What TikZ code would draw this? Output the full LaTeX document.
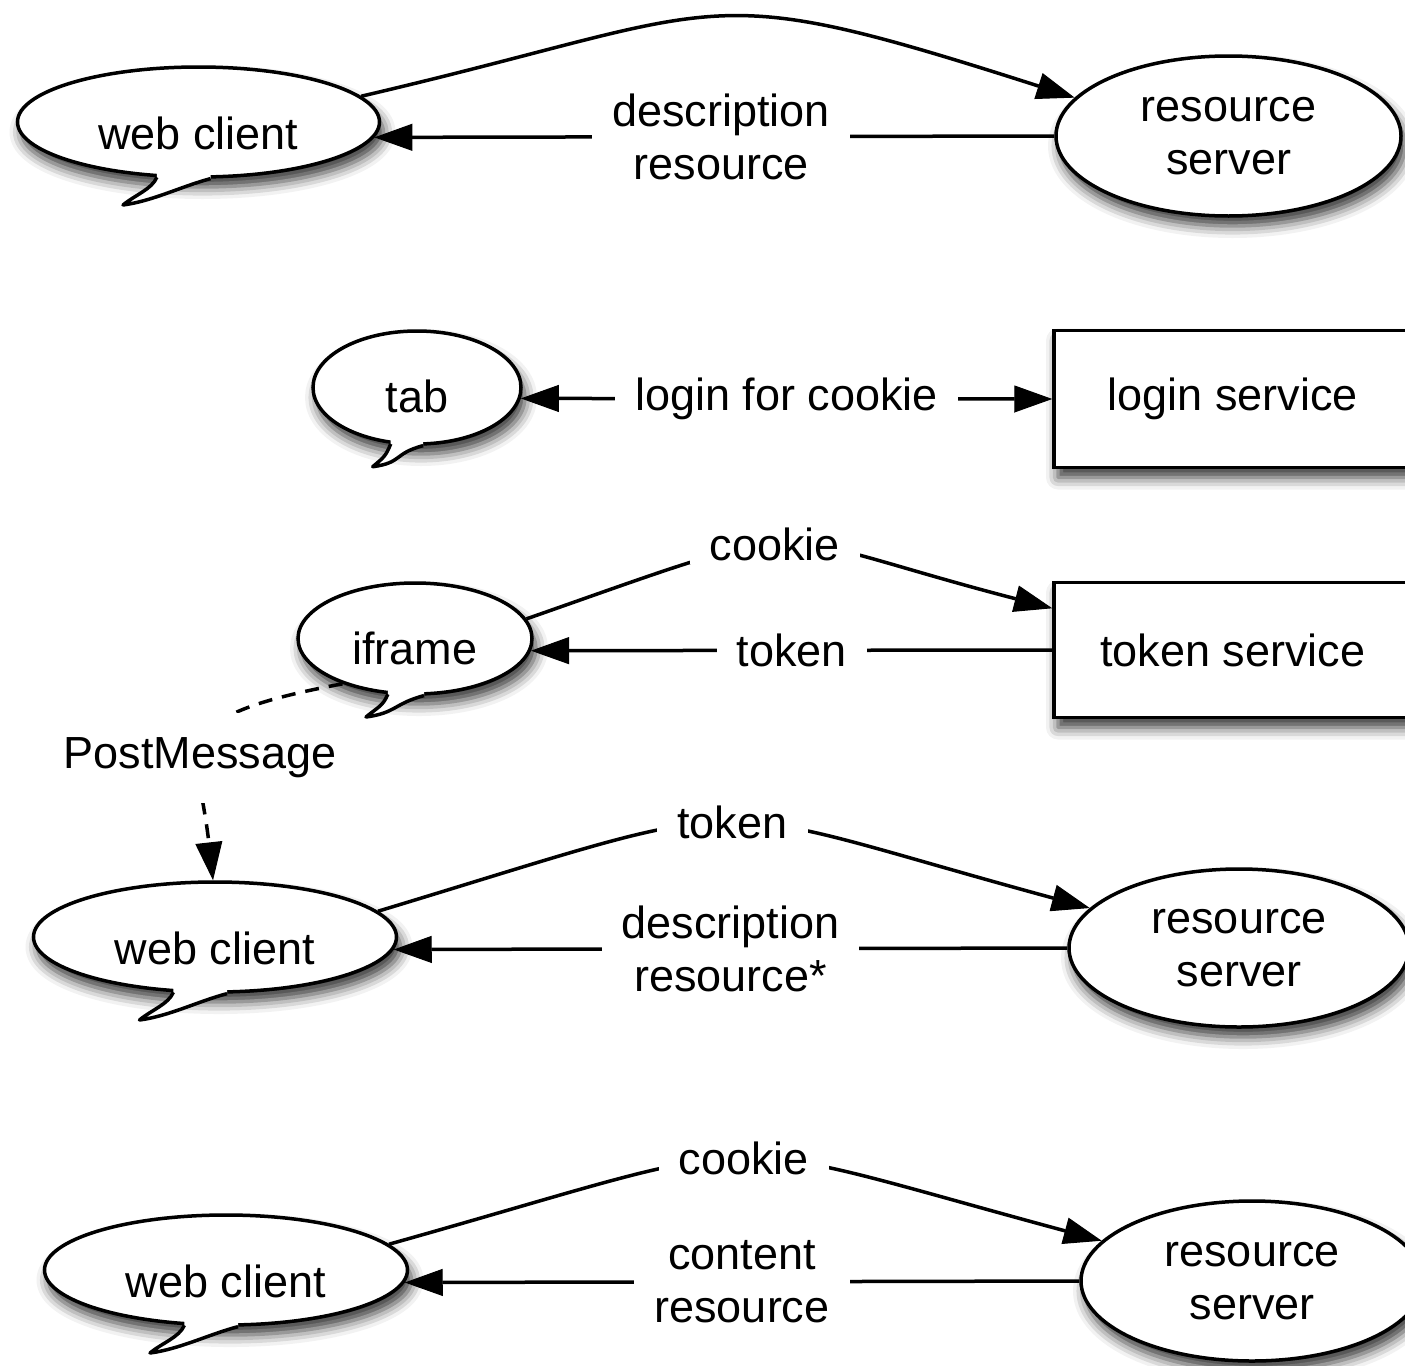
\documentclass[tikz,border=0pt]{standalone}
\usepackage{fontspec}
\setmainfont{Liberation Sans}
\usetikzlibrary{arrows.meta,shapes.geometric,shadows.blur,calc}
\pgfdeclarelayer{bg}
\pgfsetlayers{bg,main}
\tikzset{
  sh/.style={blur shadow={shadow xshift=4pt,shadow yshift=-10pt,shadow blur radius=12pt,shadow opacity=80}},
  arw/.tip={Triangle[length=38pt,width=27pt,fill=black,line width=1pt]},
  conn/.style={line width=3.5pt,draw=black,-arw},
  lbl/.style={fill=white,inner xsep=20pt,inner ysep=3pt,align=center},
  bubble/.style={ellipse,draw,fill=white,line width=3.5pt,inner sep=0pt,sh},
  srv/.style={ellipse,draw,fill=white,line width=3.5pt,inner sep=0pt,align=center,sh},
  box/.style={rectangle,draw,fill=white,line width=3.5pt,sh},
}
% #1 node, #2 left angle, #3 right angle, #4 tip coordinate
\newcommand\bubtail[4]{%
  \begin{pgfonlayer}{bg}
    \path[sh] (#1.#2) .. controls ($(#1.#2)+(-5,12)$) and ($(#4)+(12,-10)$) .. (#4)
      .. controls ($(#4)+(30,-4)$) and ($(#1.#3)+(-30,8)$) .. (#1.#3) -- cycle;
  \end{pgfonlayer}
  \fill[white] (#1.#2) .. controls ($(#1.#2)+(-5,12)$) and ($(#4)+(12,-10)$) .. (#4)
      .. controls ($(#4)+(30,-4)$) and ($(#1.#3)+(-30,8)$) .. (#1.#3)
      -- ($(#1.#3)+(0,-12)$) -- ($(#1.#2)+(0,-12)$) -- cycle;
  \draw[line width=3.5pt,line join=round] (#1.#2) .. controls ($(#1.#2)+(-5,12)$) and ($(#4)+(12,-10)$) .. (#4)
      .. controls ($(#4)+(30,-4)$) and ($(#1.#3)+(-30,8)$) .. (#1.#3);
}
\begin{document}
\begin{tikzpicture}[x=1pt,y=-1pt,every node/.style={font=\fontsize{45}{53}\selectfont}]
\useasboundingbox (0,0) rectangle (1405,1365);

% ---------- row 1
\node[bubble,minimum width=362pt,minimum height=110pt,label={[yshift=-11pt]center:web client}] (wc1) at (198.5,122) {};
\bubtail{wc1}{233}{282}{123,205}
\node[srv,minimum width=345pt,minimum height=160pt] (rs1) at (1228.5,136) {resource\\server};
\draw[conn] (wc1.9) .. controls (739,8) and (692,-25) .. (rs1.166);
\draw[conn] (rs1.west) -- node[lbl,pos=0.49]{description\\resource} (wc1.355);

% ---------- row 2
\node[bubble,minimum width=208pt,minimum height=113pt,label={[yshift=-9pt]center:tab}] (tab) at (417,387.5) {};
\bubtail{tab}{245}{276}{372.7,466.7}
\node[box,minimum width=358pt,minimum height=137pt] (ls) at (1233,399) {login service};
\draw[line width=3.5pt,arw-arw] (tab.354) -- node[lbl]{login for cookie} (ls.west);

% ---------- row 3
\node[bubble,minimum width=234pt,minimum height=111pt,label={[yshift=-10pt]center:iframe}] (ifr) at (415,638.5) {};
\bubtail{ifr}{244}{279}{366,717}
\node[box,minimum width=358pt,minimum height=135pt] (ts) at (1233,650) {token service};
\draw[conn] (ifr.10) .. controls (829,513) and (751,530) .. (ts.167) node[lbl,pos=0.455]{cookie};
\draw[conn] (ts.west) -- node[lbl]{token} (ifr.354);

% ---------- row 4
\node[bubble,minimum width=363pt,minimum height=110pt,label={[yshift=-11pt]center:web client}] (wc2) at (215,937) {};
\bubtail{wc2}{233}{282}{139.5,1020}
\node[srv,minimum width=340pt,minimum height=158pt] (rs2) at (1239,948) {resource\\server};
\draw[conn] (wc2.9) .. controls (779,790) and (685,798) .. (rs2.165) node[lbl,pos=0.5]{token};
\draw[conn] (rs2.west) -- node[lbl]{description\\resource*} (wc2.356);

% PostMessage (dashed)
\draw[conn,dash pattern=on 14pt off 10pt] (ifr.212) .. controls (160,718) and (198,745) .. (wc2.92)
  node[lbl,inner ysep=25pt] (pm) at (200,758) {PostMessage};

% ---------- row 5
\node[bubble,minimum width=363pt,minimum height=110pt,label={[yshift=-11pt]center:web client}] (wc3) at (226,1270) {};
\bubtail{wc3}{233}{282}{150,1353}
\node[srv,minimum width=342pt,minimum height=160pt] (rs3) at (1252,1281) {resource\\server};
\draw[conn] (wc3.9) .. controls (792,1131) and (695,1131) .. (rs3.165) node[lbl,pos=0.5]{cookie};
\draw[conn] (rs3.west) -- node[lbl]{content\\resource} (wc3.356);
\end{tikzpicture}
\end{document}
